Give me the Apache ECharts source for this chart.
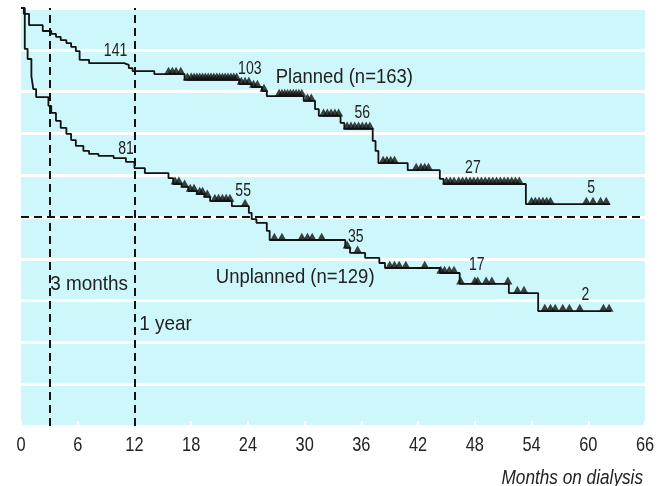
<!DOCTYPE html>
<html>
<head>
<meta charset="utf-8">
<script src="https://cdn.jsdelivr.net/npm/echarts@6/dist/echarts.min.js"></script>
<style>
html,body{margin:0;padding:0;background:#fff;}
#chart{width:662px;height:486px;}
</style>
</head>
<body>
<div id="chart"></div>
<script>
// X axis ticks (months on dialysis)
const xTicks = [0, 6, 12, 18, 24, 30, 36, 42, 48, 54, 60, 66];

// Planned start: step times (months) and survival (%) after each step
const plannedTimes = [0, 0.3, 0.85, 2.3, 3.2, 3.7, 4.2, 4.8, 5.3, 5.8, 6.2, 7.2, 10.9, 11.4, 11.8, 14.1, 17.3, 23.1, 24.4, 25.5, 26.0, 29.9, 31.1, 31.5, 33.8, 34.2, 37.2, 37.5, 37.8, 40.9, 44.3, 44.7, 53.4, 62.3];
const plannedSurv  = [100, 98.6, 95.9, 94.5, 93.8, 93.1, 92.3, 91.6, 90.7, 89.7, 87.6, 86.8, 86.4, 85.6, 84.9, 84.2, 82.8, 81.8, 81.1, 80.1, 78.9, 77.8, 75.8, 74.2, 72.5, 71.1, 68.2, 65.8, 62.9, 61.2, 59.1, 57.9, 53.1, 53.1];
// Planned censored observations (months)
const plannedCensored = [15.6, 16.0, 16.4, 16.9, 17.6, 18.0, 18.3, 18.6, 18.9, 19.2, 19.5, 19.8, 20.1, 20.4, 20.7, 21.0, 21.3, 21.6, 21.9, 22.2, 22.5, 22.8, 23.3, 23.7, 24.1, 24.6, 25.0, 25.7, 27.3, 27.6, 27.9, 28.2, 28.5, 28.8, 29.1, 29.4, 29.7, 30.3, 30.7, 32.0, 32.4, 32.8, 33.2, 33.6, 34.5, 34.9, 35.3, 35.7, 36.1, 36.5, 36.9, 38.3, 38.7, 39.1, 39.5, 41.8, 42.3, 42.7, 43.1, 45.0, 45.4, 45.8, 46.3, 46.7, 47.1, 47.5, 47.9, 48.3, 48.7, 49.1, 49.5, 49.9, 50.3, 50.7, 51.1, 51.5, 51.9, 52.3, 52.7, 54.0, 54.4, 54.8, 55.2, 55.6, 56.0, 59.8, 60.5, 61.3, 61.9];

// Unplanned start
const unplannedTimes = [0, 0.4, 0.7, 1.1, 1.3, 1.6, 2.9, 3.2, 3.7, 4.2, 4.8, 5.3, 5.8, 6.6, 7.2, 8.2, 9.8, 11.1, 12.0, 13.1, 15.6, 16.1, 17.0, 17.7, 18.6, 19.4, 20.0, 22.3, 24.1, 24.4, 24.9, 26.0, 26.3, 34.3, 34.8, 36.4, 37.9, 38.5, 44.3, 46.4, 51.6, 54.7, 62.4];
const unplannedSurv  = [100, 90.2, 87.8, 83.7, 80.6, 78.7, 76.6, 74.9, 73.0, 71.3, 69.9, 68.4, 67.0, 65.8, 65.1, 64.6, 64.1, 63.2, 61.7, 60.5, 59.3, 57.9, 57.2, 56.2, 55.5, 54.8, 53.8, 52.6, 51.0, 49.5, 48.6, 46.7, 44.5, 42.6, 41.4, 40.2, 39.0, 37.8, 36.6, 34.0, 31.8, 27.5, 27.5];
const unplannedCensored = [16.3, 16.7, 17.3, 17.9, 18.3, 18.9, 19.2, 19.7, 20.5, 20.9, 21.3, 21.7, 22.1, 23.7, 26.8, 27.6, 29.7, 30.3, 30.8, 31.8, 34.5, 35.6, 39.0, 39.5, 40.0, 40.7, 42.7, 44.4, 44.8, 45.3, 45.8, 46.5, 48.0, 48.3, 49.2, 49.8, 51.5, 52.5, 53.2, 55.4, 56.0, 56.5, 57.3, 58.0, 59.1, 61.6, 62.2];

// Numbers at risk annotations [month, %, text]
const riskLabels = [[10.0, 89.7, '141'], [24.2, 85.5, '103'], [36.1, 74.9, '56'], [47.8, 61.7, '27'], [60.3, 56.9, '5'],
                    [11.1, 66.3, '81'], [23.5, 56.2, '55'], [35.4, 45.2, '35'], [48.2, 38.5, '17'], [59.7, 31.3, '2']];
const groupLabels = [[34.2, 83.5, 'Planned (n=163)'], [29.0, 35.6, 'Unplanned (n=129)']];
const markerLabels = [[3.1, 33.9, '3 months'], [12.5, 24.3, '1 year']];
const refMonths = [3, 12];
const refSurvival = 50;
const axisTitle = 'Months on dialysis';

const FONT = '"Liberation Sans", Arial, sans-serif';

function pairs(t, s) { return t.map((v, i) => [v, s[i]]); }
function survAt(t, times, surv) {
  let idx = 0;
  for (let i = 0; i < times.length; i++) { if (times[i] <= t) idx = i; }
  return surv[idx];
}

const chart = echarts.init(document.getElementById('chart'), null, {renderer: 'canvas'});
const lineStyle = {color: '#111', width: 1.8};
const triangle = {
  type: 'scatter', symbol: 'triangle', symbolSize: [9, 8], symbolOffset: [0, '-42%'],
  itemStyle: {color: '#111'}, z: 4, silent: true
};

chart.setOption({
  animation: false,
  grid: {left: 21, right: 17, top: 8, bottom: 60, show: true, backgroundColor: '#cdf7fb', borderWidth: 0},
  xAxis: {
    type: 'value', min: 0, max: 66, interval: 6,
    axisLine: {show: false},
    axisTick: {show: true, inside: true, length: 5, lineStyle: {color: '#fff', width: 2}},
    axisLabel: {show: false},
    splitLine: {show: false}
  },
  yAxis: {
    type: 'value', min: 0, max: 100, interval: 10,
    axisLine: {show: false}, axisTick: {show: false}, axisLabel: {show: false},
    splitLine: {show: true, lineStyle: {color: '#fff', width: 3}}
  },
  series: [
    {
      type: 'line', step: 'end', data: pairs(plannedTimes, plannedSurv), symbol: 'none',
      lineStyle: lineStyle, z: 3,
      markLine: {
        silent: true, symbol: 'none', label: {show: false},
        lineStyle: {color: '#111', type: [8, 5], width: 2},
        data: [
          [{coord: [refMonths[0], 0]}, {coord: [refMonths[0], 100]}],
          [{coord: [refMonths[1], 0]}, {coord: [refMonths[1], 100]}],
          [{coord: [0, refSurvival]}, {coord: [66, refSurvival]}]
        ]
      }
    },
    {type: 'line', step: 'end', data: pairs(unplannedTimes, unplannedSurv), symbol: 'none', lineStyle: lineStyle, z: 3},
    Object.assign({}, triangle, {data: plannedCensored.map(t => [t, survAt(t, plannedTimes, plannedSurv)])}),
    Object.assign({}, triangle, {data: unplannedCensored.map(t => [t, survAt(t, unplannedTimes, unplannedSurv)])})
  ]
});

// Condensed-looking text placed through the chart's own coordinate system
function textEl(pt, str, size, sx, align, extra) {
  return Object.assign({
    type: 'text', x: pt[0], y: pt[1], scaleX: sx, z: 100, silent: true,
    style: Object.assign({text: str, fontSize: size, fontFamily: FONT, fill: '#222',
                          align: align || 'center', verticalAlign: 'middle'}, extra || {})
  });
}
const px = v => chart.convertToPixel({gridIndex: 0}, v);
const els = [];
const bottomY = px([0, 0])[1];
xTicks.forEach(t => els.push(textEl([px([t, 0])[0], bottomY + 19], String(t), 21, 0.78)));
riskLabels.forEach(d => els.push(textEl(px([d[0], d[1]]), d[2], 18, 0.78)));
groupLabels.forEach(d => els.push(textEl(px([d[0], d[1]]), d[2], 21, 0.88)));
markerLabels.forEach(d => els.push(textEl(px([d[0], d[1]]), d[2], 21, 0.9, 'left')));
els.push(textEl([px([66, 0])[0] - 2, bottomY + 52], axisTitle, 20, 0.86, 'right', {fontStyle: 'italic'}));
chart.setOption({graphic: els});
</script>
</body>
</html>
